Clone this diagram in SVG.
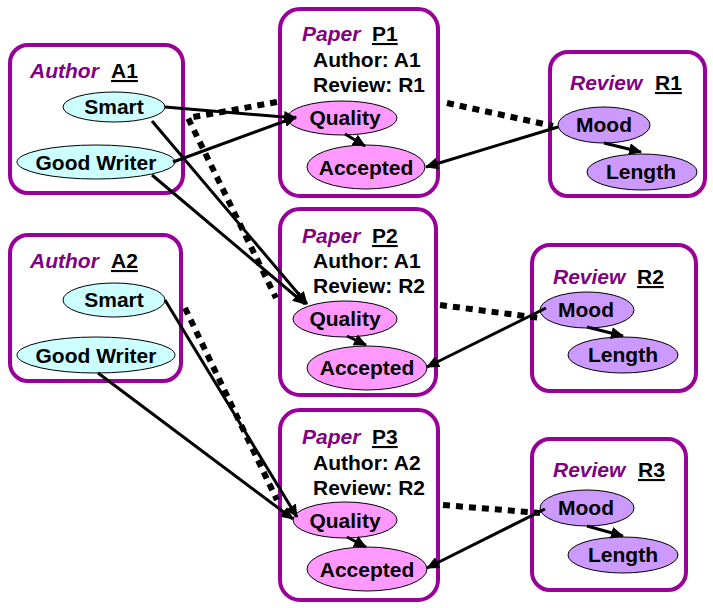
<svg xmlns="http://www.w3.org/2000/svg" width="713" height="608" viewBox="0 0 713 608">
<defs>
<style>
.box{fill:#fff;stroke:#990099;stroke-width:4}
.au{fill:#CCFFFF;stroke:#000;stroke-width:1}
.pa{fill:#FF99FF;stroke:#000;stroke-width:1}
.re{fill:#CC99FF;stroke:#000;stroke-width:1}
text{font-family:"Liberation Sans",Arial,sans-serif;font-weight:bold;font-size:21px;fill:#000}
.t{fill:#800080;font-style:italic}
.u{text-decoration:underline}
.m{text-anchor:middle}
.e{fill:none;stroke:#000;stroke-width:3;marker-end:url(#ah)}
.d{fill:none;stroke:#000;stroke-width:6;stroke-dasharray:7 6}
</style>
<marker id="ah" markerUnits="userSpaceOnUse" markerWidth="14" markerHeight="12" refX="12" refY="6" orient="auto">
<path d="M0,0 L13,6 L0,12 z" fill="#000"/>
</marker>
</defs>
<g id="A1">
<rect class="box" x="10" y="45" width="173" height="148" rx="18"/>
<text x="30" y="78" class="t">Author</text><text x="111" y="78" class="u">A1</text>
<ellipse class="au" cx="114" cy="107" rx="51" ry="15"/><text x="114" y="114" class="m">Smart</text>
<ellipse class="au" cx="96" cy="162" rx="79" ry="17"/><text x="96" y="170" class="m">Good Writer</text>
</g>
<g id="A2">
<rect class="box" x="10" y="235" width="171" height="146" rx="18"/>
<text x="30" y="268" class="t">Author</text><text x="111" y="268" class="u">A2</text>
<ellipse class="au" cx="114" cy="300" rx="51" ry="17"/><text x="114" y="307" class="m">Smart</text>
<ellipse class="au" cx="96" cy="355" rx="79" ry="18"/><text x="96" y="363" class="m">Good Writer</text>
</g>
<g id="P1">
<rect class="box" x="280" y="9" width="158" height="187" rx="20"/>
<text x="302" y="41" class="t">Paper</text><text x="372" y="41" class="u">P1</text>
<text x="313" y="67">Author: A1</text><text x="313" y="92">Review: R1</text>
<ellipse class="pa" cx="342" cy="118" rx="55" ry="17"/><text x="345" y="125" class="m">Quality</text>
<ellipse class="pa" cx="366" cy="167" rx="59" ry="22"/><text x="366" y="175" class="m">Accepted</text>
</g>
<g id="P2">
<rect class="box" x="280" y="209" width="156" height="186" rx="20"/>
<text x="302" y="243" class="t">Paper</text><text x="372" y="243" class="u">P2</text>
<text x="313" y="268">Author: A1</text><text x="313" y="293">Review: R2</text>
<ellipse class="pa" cx="345" cy="319" rx="52" ry="18"/><text x="345" y="326" class="m">Quality</text>
<ellipse class="pa" cx="367" cy="368" rx="60" ry="22"/><text x="367" y="375" class="m">Accepted</text>
</g>
<g id="P3">
<rect class="box" x="280" y="410" width="158" height="190" rx="20"/>
<text x="302" y="444" class="t">Paper</text><text x="372" y="444" class="u">P3</text>
<text x="313" y="470">Author: A2</text><text x="313" y="495">Review: R2</text>
<ellipse class="pa" cx="345" cy="520" rx="52" ry="18"/><text x="345" y="528" class="m">Quality</text>
<ellipse class="pa" cx="367" cy="569" rx="60" ry="22"/><text x="367" y="577" class="m">Accepted</text>
</g>
<g id="R1">
<rect class="box" x="550" y="52" width="155" height="144" rx="18"/>
<text x="570" y="90" class="t">Review</text><text x="655" y="90" class="u">R1</text>
<ellipse class="re" cx="604" cy="125" rx="46" ry="18"/><text x="604" y="132" class="m">Mood</text>
<ellipse class="re" cx="642" cy="172" rx="55" ry="18"/><text x="641" y="179" class="m">Length</text>
</g>
<g id="R2">
<rect class="box" x="532" y="245" width="164" height="146" rx="18"/>
<text x="553" y="284" class="t">Review</text><text x="637" y="284" class="u">R2</text>
<ellipse class="re" cx="587" cy="310" rx="47" ry="18"/><text x="586" y="317" class="m">Mood</text>
<ellipse class="re" cx="623" cy="355" rx="55" ry="18"/><text x="623" y="362" class="m">Length</text>
</g>
<g id="R3">
<rect class="box" x="532" y="439" width="154" height="151" rx="18"/>
<text x="553" y="477" class="t">Review</text><text x="638" y="477" class="u">R3</text>
<ellipse class="re" cx="587" cy="508" rx="47" ry="18"/><text x="586" y="515" class="m">Mood</text>
<ellipse class="re" cx="623" cy="555" rx="55" ry="18"/><text x="623" y="562" class="m">Length</text>
</g>
<g id="connectors">
<path class="d" d="M277,102 L188,118 L276,298"/>
<path class="d" d="M185,308 L277,500"/>
<path class="d" d="M447,103 L553,126"/>
<path class="d" d="M440,305 L540,318"/>
<path class="d" d="M443,505 L540,513"/>
<path class="e" d="M165,107 L296,118"/>
<path class="e" d="M173,162 L296,117"/>
<path class="e" d="M152,121 L307,304"/>
<path class="e" d="M152,175 L305,304"/>
<path class="e" d="M165,300 L297,517"/>
<path class="e" d="M98,373 L293,519"/>
<path class="e" d="M558,127 L426,167"/>
<path class="e" d="M546,308 L427,367"/>
<path class="e" d="M545,509 L427,568"/>
<path class="e" d="M345,134 L365,146"/>
<path class="e" d="M347,336 L366,345"/>
<path class="e" d="M347,537 L366,547"/>
<path class="e" d="M604,143 L641,152"/>
<path class="e" d="M587,327 L623,336"/>
<path class="e" d="M587,526 L623,536"/>
</g>
</svg>
